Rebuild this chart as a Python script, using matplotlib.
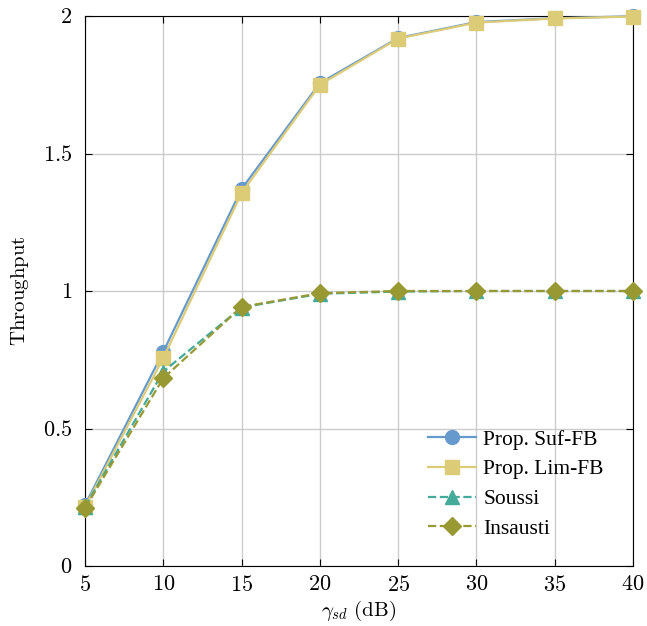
import numpy as np
import matplotlib
matplotlib.use('Agg')
import matplotlib.pyplot as plt

# data
snr = [5, 10, 15, 20, 25, 30, 35, 40]
suf_fb = [0.222, 0.779, 1.371, 1.756, 1.920, 1.978, 1.992, 1.999]
lim_fb = [0.215, 0.756, 1.356, 1.750, 1.918, 1.976, 1.991, 1.998]
soussi = [0.215, 0.707, 0.940, 0.990, 0.998, 1.0, 1.0, 1.0]
insausti = [0.210, 0.683, 0.942, 0.992, 1.0, 1.0, 1.0, 1.0]
ytick_vals = [0, 0.5, 1, 1.5, 2]
ytick_text = ['0', '0.5', '1', '1.5', '2']

plt.rcParams['font.family'] = ['Liberation Serif', 'DejaVu Serif']
plt.rcParams['mathtext.fontset'] = 'cm'

fig = plt.figure(figsize=(6.47, 6.26), dpi=100)
ax = fig.add_axes([85/647, 1-566/626, 548/647, 550/626])

ax.plot(snr, suf_fb, color='#6699cc', marker='o', markersize=10, linewidth=1.6,
        label='Prop. Suf-FB', clip_on=False, zorder=5)
ax.plot(snr, lim_fb, color='#ddcc77', marker='s', markersize=10, linewidth=1.6,
        label='Prop. Lim-FB', clip_on=False, zorder=5)
ax.plot(snr, soussi, color='#44aa99', marker='^', markersize=10, linewidth=1.6,
        linestyle='--', label='Soussi', clip_on=False, zorder=5)
ax.plot(snr, insausti, color='#999933', marker='D', markersize=9, linewidth=1.6,
        linestyle='--', label='Insausti', clip_on=False, zorder=5)

ax.set_xlim(5, 40)
ax.set_ylim(0, 2)
ax.set_xticks(snr)
ax.set_xticklabels(['$%d$' % s for s in snr])
ax.set_yticks(ytick_vals)
ax.set_yticklabels(['$%s$' % t for t in ytick_text])
ax.grid(True, color='#cccccc', linewidth=1)
ax.tick_params(labelsize=16, direction='in', length=5, top=True, right=True)
ax.tick_params(axis='x', pad=7)
ax.tick_params(axis='y', pad=9)
ax.set_xlabel(r'$\gamma_{sd}\ \mathrm{(dB)}$', fontsize=15, labelpad=2)
ax.set_ylabel(r'$\mathrm{Throughput}$', fontsize=15, labelpad=9)
ax.legend(loc='lower right', bbox_to_anchor=(0.982, 0.014), fontsize=15.5, frameon=False,
          handlelength=2.2, handletextpad=0.35, labelspacing=0.45)

plt.savefig('out.png', dpi=100)
